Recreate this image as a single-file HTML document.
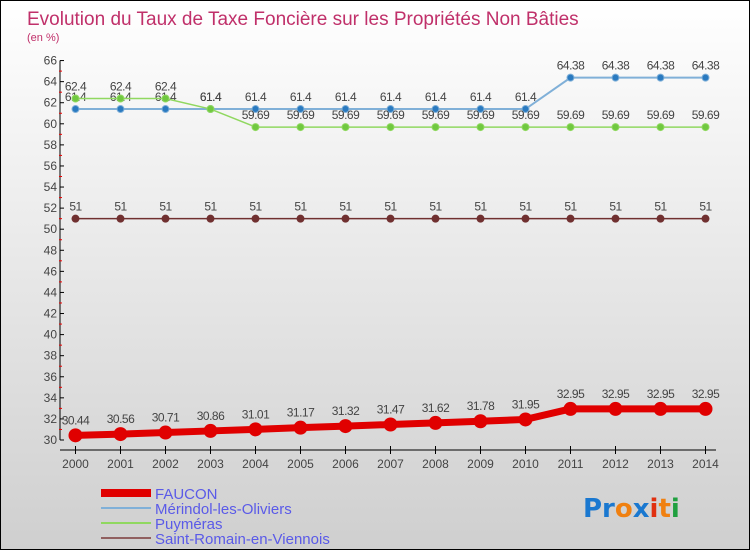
<!DOCTYPE html>
<html><head><meta charset="utf-8"><style>
body{margin:0}
#c{width:748px;height:548px;border:1px solid #000;background:linear-gradient(#fff,#cfcfcf);position:relative;font-family:"Liberation Sans",sans-serif;overflow:hidden}
</style></head><body>
<div id="c">
<svg id="s" width="748" height="548" xmlns="http://www.w3.org/2000/svg">
<text x="26" y="24" font-size="19" fill="#c0306a">Evolution du Taux de Taxe Foncière sur les Propriétés Non Bâties</text>
<text x="26" y="40" font-size="11" fill="#c0306a">(en %)</text>
<g id="g"></g>
<text x="582" y="516" font-size="26" font-weight="bold" font-family="'DejaVu Sans',sans-serif"><tspan fill="#1a78d0">Pr</tspan><tspan fill="#f08010">o</tspan><tspan fill="#1a78d0">x</tspan><tspan fill="#e03010">i</tspan><tspan fill="#f08010">t</tspan><tspan fill="#20a040">i</tspan></text>
</svg></div>
<script>
const years=[2000,2001,2002,2003,2004,2005,2006,2007,2008,2009,2010,2011,2012,2013,2014];
const faucon=[30.44,30.56,30.71,30.86,31.01,31.17,31.32,31.47,31.62,31.78,31.95,32.95,32.95,32.95,32.95];
const merindol=[61.4,61.4,61.4,61.4,61.4,61.4,61.4,61.4,61.4,61.4,61.4,64.38,64.38,64.38,64.38];
const puymeras=[62.4,62.4,62.4,61.4,59.69,59.69,59.69,59.69,59.69,59.69,59.69,59.69,59.69,59.69,59.69];
const romain=[51,51,51,51,51,51,51,51,51,51,51,51,51,51,51];
const yTicks=[30,32,34,36,38,40,42,44,46,48,50,52,54,56,58,60,62,64,66];
const NS='http://www.w3.org/2000/svg',g=document.getElementById('g');
const X=i=>74.5+i*45, Y=v=>439-(v-30)*10.54;
function el(t,a,p){const e=document.createElementNS(NS,t);for(const k in a)e.setAttribute(k,a[k]);(p||g).appendChild(e);return e;}
let ax=el('line',{x1:59,y1:Y(66),x2:59,y2:Y(30),stroke:'#000'});


let xa=el('line',{x1:59,y1:449,x2:715,y2:449,stroke:'#000'});


yTicks.forEach((v,i)=>{el('line',{x1:59,y1:Y(v),x2:63,y2:Y(v),stroke:'#000'});
 if(i<yTicks.length-1)el('line',{x1:58,y1:Y(v+1),x2:61,y2:Y(v+1),stroke:'#e00'});
 const t=el('text',{x:56,y:Y(v)+4,'font-size':12,fill:'#444','text-anchor':'end'});t.textContent=v;
 
 });
years.forEach((y,i)=>{el('line',{x1:X(i),y1:445,x2:X(i),y2:453,stroke:'#000'});
 const t=el('text',{x:X(i),y:467,'font-size':12,fill:'#444','text-anchor':'middle'});t.textContent=y;
 
 });
function series(name,d,col,fill,w,r,lab){
 const s=el('g',{});
 el('polyline',{points:d.map((v,i)=>X(i)+','+Y(v)).join(' '),fill:'none',stroke:col,'stroke-width':w},s);
 d.forEach((v,i)=>{const c=el('circle',{cx:X(i),cy:Y(v),r:r,fill:fill,stroke:col,'stroke-width':1},s);
  
  
  const t=el('text',{x:X(i),y:Y(v)-lab,'font-size':12,fill:'#444','text-anchor':'middle','letter-spacing':'-0.5'},s);t.textContent=v;});
}
series('series-romain',romain,'#703030','#703030',1.5,3.5,8);
series('series-merindol',merindol,'#80b0d8','#2a7ac0',2,3.5,8);
series('series-puymeras',puymeras,'#90d860','#70c840',1.5,3.5,8);
series('series-faucon',faucon,'#e00000','#e00000',7,6.5,11);
const leg=[['FAUCON','#e00000',8],['Mérindol-les-Oliviers','#80b0d8',2],['Puyméras','#90d860',2],['Saint-Romain-en-Viennois','#906060',2]];
leg.forEach((l,i)=>{const y=492+i*15;
 const a=el('line',{x1:100,y1:y,x2:150,y2:y,stroke:l[1],'stroke-width':l[2]});
 
 
 const t=el('text',{x:154,y:y+6,'font-size':15,fill:'#5a5ae8'});t.textContent=l[0];
 
 });
</script></body></html>
